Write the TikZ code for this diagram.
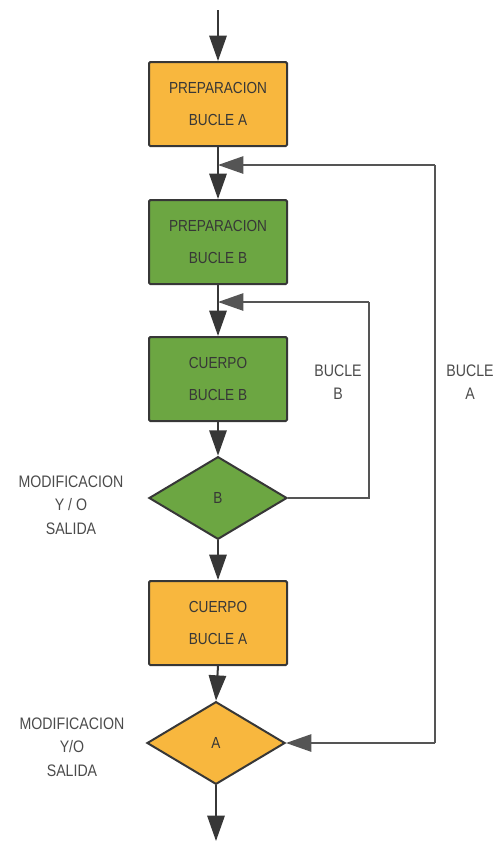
\documentclass[tikz,border=0pt]{standalone}
\usepackage{fontspec}
\setmainfont{Liberation Sans}[FakeStretch=0.85]
\usetikzlibrary{arrows.meta,shapes.geometric}

\definecolor{naranja}{RGB}{248,183,62}
\definecolor{verde}{RGB}{108,166,66}
\definecolor{trazo}{RGB}{55,55,55}

\tikzset{
  caja/.style={draw=trazo, line width=1.5pt, rounded corners=1pt, minimum width=103.5pt,
    minimum height=63pt, align=center, text=trazo, font=\fontsize{12}{24}\selectfont},
  rombo/.style={diamond, draw=trazo, line width=1.5pt, minimum width=103.5pt,
    minimum height=62pt, inner sep=0pt, text=trazo, font=\fontsize{12}{14}\selectfont},
  flecha/.style={draw=trazo, line width=1.5pt, -{Triangle[length=19pt,width=13pt]}},
  lazo/.style={draw=trazo!85, line width=1.2pt},
  rotulo/.style={align=center, text=trazo!90, font=\fontsize{12.5}{17.6}\selectfont}
}

\begin{document}
\begin{tikzpicture}[x=0.75pt,y=-0.75pt]
\useasboundingbox (0,0) rectangle (494,844);

\node [caja, fill=naranja] (prepA) at (218,104) {PREPARACION\\BUCLE A};
\node [caja, fill=verde] (prepB) at (218,242) {PREPARACION\\BUCLE B};
\node [caja, fill=verde] (cuerpoB) at (218,379) {CUERPO\\BUCLE B};
\node [rombo, fill=verde] (decB) at (218,498) {B};
\node [caja, fill=naranja] (cuerpoA) at (218,623) {CUERPO\\BUCLE A};
\node [rombo, fill=naranja] (decA) at (216,743) {A};

\coordinate (inicio) at (218,10);
\coordinate (fin) at (216,841);
\coordinate (jA) at (218,165);
\coordinate (jB) at (218,302);
\coordinate (esqB1) at (369,498);
\coordinate (esqB2) at (369,302);
\coordinate (esqA1) at (435,743);
\coordinate (esqA2) at (435,165);

% flujo principal
\draw [flecha] (inicio) -- (prepA.north);
\draw [flecha] (prepA.south) -- (prepB.north);
\draw [flecha] (prepB.south) -- (cuerpoB.north);
\draw [flecha] (cuerpoB.south) -- (decB.north);
\draw [flecha] (decB.south) -- (cuerpoA.north);
\draw [flecha] (cuerpoA.south) -- (decA.north);
\draw [flecha] (decA.south) -- (fin);

% bucles
\draw [lazo] (decB.east) -- (esqB1) -- (esqB2);
\draw [flecha, lazo] (esqB2) -- (jB);
\draw [lazo] (esqA2) -- (esqA1);
\draw [flecha, lazo] (esqA2) -- (jA);
\draw [flecha, lazo] (esqA1) -- (decA.east);

\node [rotulo] (txtB) at (338,382) {BUCLE\\B};
\node [rotulo] (txtA) at (470,382) {BUCLE\\A};
\node [rotulo] (modB) at (71,505) {MODIFICACION\\Y / O\\SALIDA};
\node [rotulo] (modA) at (72,747) {MODIFICACION\\Y/O\\SALIDA};

\end{tikzpicture}
\end{document}
